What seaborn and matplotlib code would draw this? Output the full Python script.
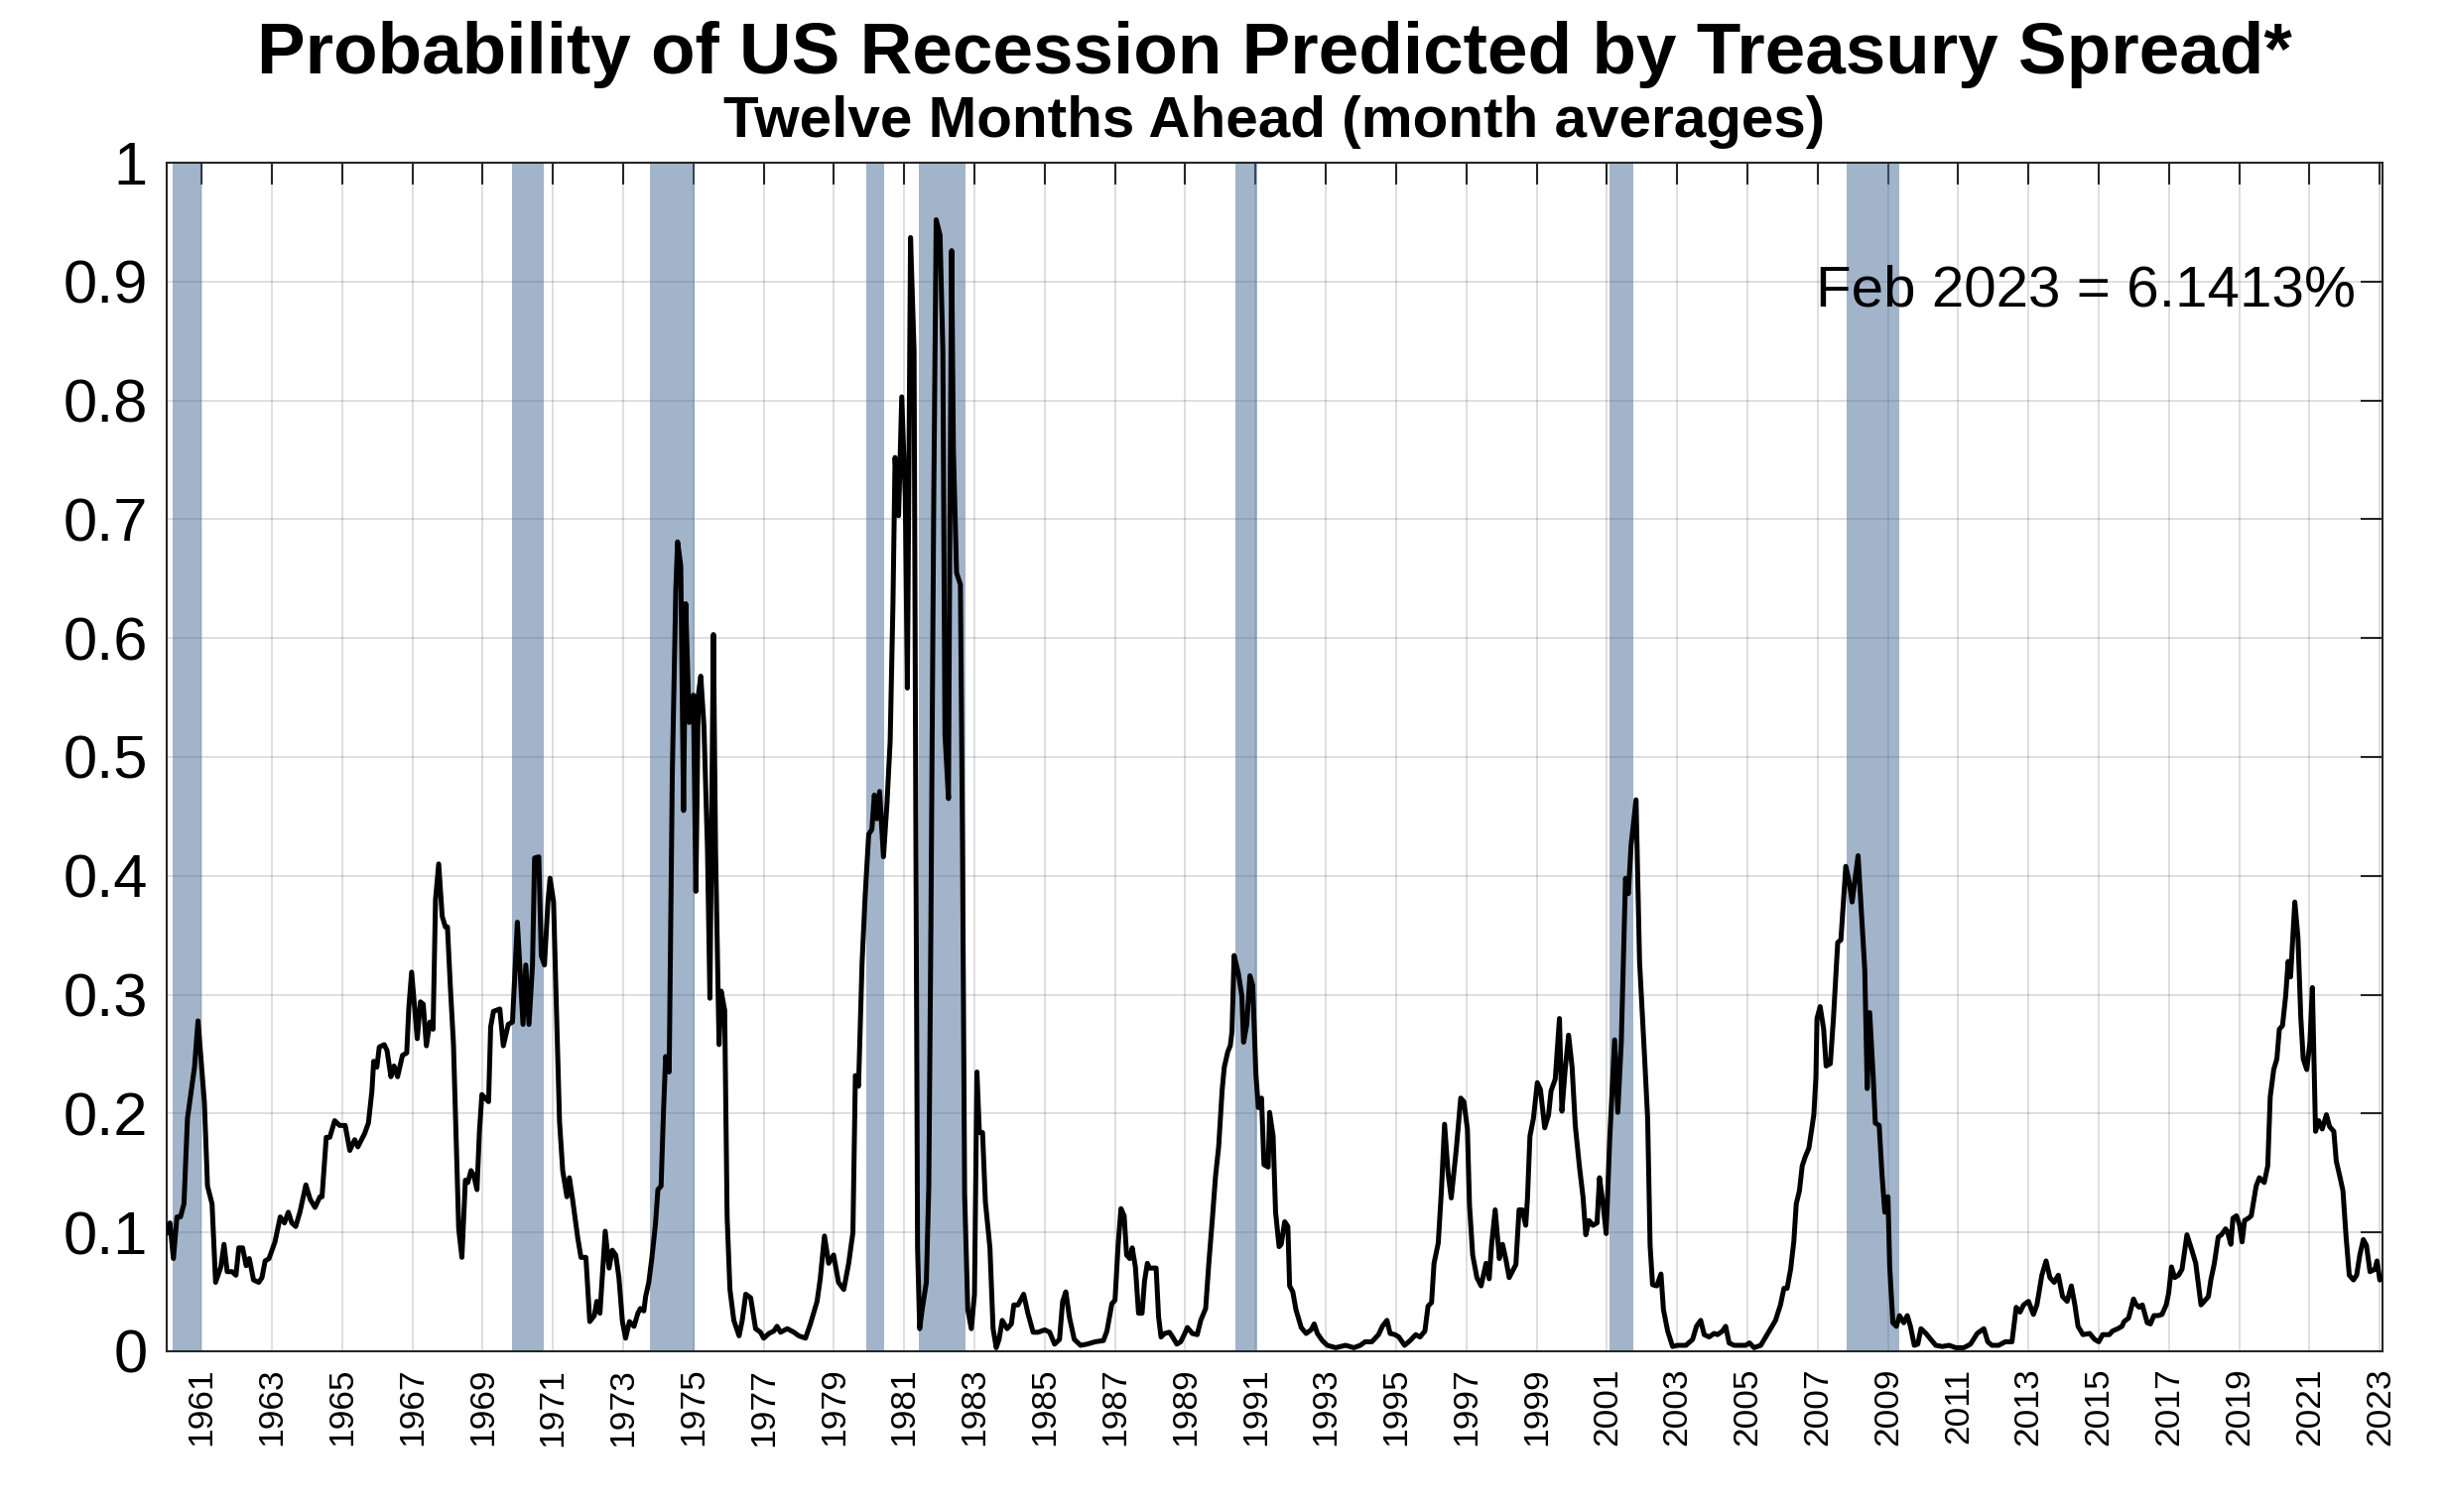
import numpy as np
import pandas as pd
import matplotlib
matplotlib.use('Agg')
import matplotlib.pyplot as plt
import seaborn as sns

# monthly-ish readings: decimal year, probability
t_1960s = [1960.00, 1960.10, 1960.20, 1960.30, 1960.40, 1960.50, 1960.60, 1960.80, 1960.90, 1961.08,
           1961.17, 1961.30, 1961.40, 1961.55, 1961.64, 1961.73, 1961.87, 1961.98, 1962.06, 1962.17,
           1962.27, 1962.36, 1962.48, 1962.63, 1962.72, 1962.81, 1962.92, 1963.09, 1963.24, 1963.36,
           1963.47, 1963.57, 1963.68, 1963.80, 1963.97, 1964.09, 1964.23, 1964.37, 1964.43, 1964.55,
           1964.65, 1964.79, 1964.93, 1965.09, 1965.22, 1965.36, 1965.45, 1965.64, 1965.75, 1965.85,
           1965.90, 1965.99, 1966.06, 1966.20, 1966.28, 1966.39, 1966.48, 1966.58, 1966.72, 1966.84,
           1966.90, 1966.98, 1967.14, 1967.23, 1967.31, 1967.40, 1967.50, 1967.59, 1967.66, 1967.75,
           1967.85, 1967.94, 1968.00, 1968.08, 1968.17, 1968.25, 1968.32, 1968.41, 1968.51, 1968.58,
           1968.67, 1968.75, 1968.84, 1968.91, 1968.98, 1969.17, 1969.23, 1969.31, 1969.49, 1969.59,
           1969.73, 1969.85, 1969.99]
p_1960s = [.099, .108, .078, .113, .113, .124, .196, .239, .278, .210,
           .139, .124, .058, .071, .090, .067, .067, .064, .087, .087,
           .072, .078, .060, .058, .062, .076, .078, .092, .113, .108,
           .117, .108, .105, .117, .140, .128, .121, .130, .130, .180,
           .180, .194, .190, .190, .169, .178, .172, .183, .192, .219,
           .244, .239, .256, .258, .253, .231, .240, .231, .249, .251,
           .289, .319, .263, .294, .292, .257, .277, .271, .380, .410,
           .366, .357, .357, .308, .259, .177, .103, .079, .144, .142,
           .152, .148, .136, .185, .216, .210, .273, .286, .288, .257,
           .275, .277, .361]

t_1970s = [1970.15, 1970.23, 1970.32, 1970.42, 1970.48, 1970.60, 1970.67, 1970.76, 1970.86, 1970.92,
           1971.02, 1971.09, 1971.19, 1971.28, 1971.40, 1971.47, 1971.56, 1971.71, 1971.80, 1971.94,
           1972.05, 1972.18, 1972.25, 1972.34, 1972.49, 1972.60, 1972.69, 1972.79, 1972.88, 1972.98,
           1973.07, 1973.18, 1973.31, 1973.42, 1973.49, 1973.59, 1973.64, 1973.73, 1973.82, 1973.92,
           1973.99, 1974.08, 1974.15, 1974.21, 1974.31, 1974.40, 1974.50, 1974.55, 1974.64, 1974.72,
           1974.78, 1974.88, 1974.94, 1975.00, 1975.07, 1975.14, 1975.21, 1975.30, 1975.40, 1975.47,
           1975.57, 1975.63, 1975.73, 1975.79, 1975.89, 1975.96, 1976.04, 1976.15, 1976.30, 1976.39,
           1976.49, 1976.63, 1976.77, 1976.91, 1977.00, 1977.15, 1977.29, 1977.38, 1977.48, 1977.67,
           1977.86, 1978.00, 1978.19, 1978.33, 1978.52, 1978.61, 1978.73, 1978.85, 1978.99, 1979.13,
           1979.28, 1979.42, 1979.54, 1979.61, 1979.70, 1979.80, 1979.89, 1979.99]
p_1970s = [.275, .325, .275, .325, .415, .416, .333, .325, .378, .398,
           .378, .300, .193, .152, .130, .146, .128, .095, .079, .079,
           .025, .030, .042, .032, .101, .070, .085, .081, .062, .025,
           .011, .025, .021, .032, .036, .034, .046, .058, .079, .107,
           .136, .139, .203, .248, .235, .487, .642, .681, .661, .455,
           .629, .529, .548, .552, .387, .552, .568, .526, .423, .297,
           .603, .423, .258, .303, .287, .113, .052, .026, .013, .026,
           .048, .045, .019, .016, .011, .015, .017, .021, .016, .019,
           .016, .013, .011, .023, .042, .061, .097, .074, .081, .058,
           .052, .074, .100, .232, .223, .326, .384, .435]

t_1980s = [1980.08, 1980.15, 1980.22, 1980.30, 1980.41, 1980.51, 1980.60, 1980.68, 1980.74, 1980.84,
           1980.93, 1981.03, 1981.09, 1981.18, 1981.28, 1981.33, 1981.38, 1981.44, 1981.51, 1981.63,
           1981.70, 1981.76, 1981.84, 1981.91, 1982.02, 1982.10, 1982.16, 1982.26, 1982.30, 1982.35,
           1982.40, 1982.49, 1982.60, 1982.66, 1982.72, 1982.81, 1982.91, 1983.00, 1983.07, 1983.14,
           1983.23, 1983.31, 1983.44, 1983.53, 1983.62, 1983.70, 1983.79, 1983.93, 1984.05, 1984.12,
           1984.24, 1984.40, 1984.52, 1984.67, 1984.81, 1985.00, 1985.14, 1985.28, 1985.42, 1985.51,
           1985.60, 1985.70, 1985.84, 1986.02, 1986.20, 1986.44, 1986.67, 1986.77, 1986.91, 1987.00,
           1987.09, 1987.17, 1987.26, 1987.33, 1987.42, 1987.49, 1987.58, 1987.67, 1987.77, 1987.84,
           1987.92, 1987.98, 1988.17, 1988.24, 1988.31, 1988.41, 1988.55, 1988.64, 1988.76, 1988.87,
           1988.97, 1989.06, 1989.20, 1989.34, 1989.44, 1989.58, 1989.67, 1989.77, 1989.86, 1989.95]
p_1980s = [.439, .468, .448, .471, .416, .461, .513, .629, .752, .703,
           .803, .719, .558, .937, .842, .450, .087, .019, .035, .058,
           .139, .358, .713, .952, .939, .842, .519, .465, .694, .926,
           .758, .655, .645, .423, .132, .035, .019, .048, .235, .184,
           .184, .126, .087, .019, .003, .010, .026, .019, .023, .039,
           .039, .048, .032, .016, .016, .018, .016, .006, .010, .042,
           .050, .029, .010, .005, .006, .008, .009, .017, .040, .043,
           .090, .120, .114, .081, .078, .087, .071, .032, .032, .059,
           .074, .070, .070, .029, .012, .015, .016, .012, .006, .008,
           .014, .020, .015, .014, .026, .036, .074, .111, .147, .172]

t_1990s = [1990.05, 1990.11, 1990.21, 1990.28, 1990.33, 1990.39, 1990.51, 1990.61, 1990.66, 1990.75,
           1990.84, 1990.92, 1991.01, 1991.08, 1991.17, 1991.24, 1991.36, 1991.40, 1991.50, 1991.57,
           1991.67, 1991.73, 1991.83, 1991.92, 1991.97, 1992.06, 1992.15, 1992.30, 1992.44, 1992.58,
           1992.67, 1992.76, 1992.90, 1993.04, 1993.28, 1993.56, 1993.80, 1993.98, 1994.12, 1994.31,
           1994.50, 1994.61, 1994.74, 1994.83, 1994.97, 1995.08, 1995.24, 1995.40, 1995.56, 1995.68,
           1995.82, 1995.91, 1996.01, 1996.08, 1996.20, 1996.29, 1996.38, 1996.48, 1996.57, 1996.71,
           1996.84, 1996.93, 1997.03, 1997.09, 1997.18, 1997.30, 1997.42, 1997.56, 1997.65, 1997.72,
           1997.82, 1997.94, 1998.03, 1998.12, 1998.22, 1998.41, 1998.50, 1998.59, 1998.69, 1998.74,
           1998.81, 1998.91, 1999.02, 1999.11, 1999.23, 1999.34, 1999.41, 1999.53, 1999.65, 1999.72,
           1999.81, 1999.91]
p_1990s = [.220, .239, .252, .257, .269, .333, .318, .299, .260, .275,
           .316, .308, .233, .205, .213, .157, .155, .201, .181, .117,
           .088, .090, .109, .105, .055, .050, .035, .020, .015, .018,
           .023, .015, .009, .005, .003, .005, .003, .005, .008, .008,
           .014, .021, .026, .015, .014, .012, .005, .009, .014, .012,
           .017, .038, .041, .074, .091, .135, .191, .150, .129, .169,
           .213, .210, .187, .123, .081, .062, .055, .074, .061, .090,
           .119, .078, .090, .078, .062, .073, .119, .119, .106, .129,
           .181, .196, .226, .220, .188, .199, .219, .229, .280, .202,
           .236, .266]

t_2000s = [2000.01, 2000.10, 2000.22, 2000.32, 2000.40, 2000.49, 2000.60, 2000.72, 2000.79, 2000.89,
           2000.98, 2001.08, 2001.22, 2001.31, 2001.41, 2001.53, 2001.61, 2001.69, 2001.83, 2001.93,
           2002.07, 2002.16, 2002.23, 2002.30, 2002.42, 2002.54, 2002.61, 2002.73, 2002.87, 2003.01,
           2003.25, 2003.44, 2003.55, 2003.67, 2003.77, 2003.91, 2004.05, 2004.15, 2004.29, 2004.38,
           2004.48, 2004.62, 2004.81, 2004.95, 2005.06, 2005.19, 2005.38, 2005.52, 2005.66, 2005.80,
           2005.94, 2006.04, 2006.13, 2006.23, 2006.32, 2006.39, 2006.48, 2006.56, 2006.65, 2006.75,
           2006.89, 2006.95, 2006.98, 2007.07, 2007.17, 2007.24, 2007.36, 2007.45, 2007.57, 2007.66,
           2007.80, 2007.89, 2007.98, 2008.15, 2008.25, 2008.34, 2008.41, 2008.48, 2008.58, 2008.64,
           2008.75, 2008.83, 2008.91, 2009.00, 2009.05, 2009.14, 2009.24, 2009.33, 2009.45, 2009.55,
           2009.64, 2009.75, 2009.85, 2009.94]
p_2000s = [.239, .190, .155, .130, .098, .110, .106, .108, .146, .124,
           .099, .178, .262, .201, .260, .398, .385, .426, .464, .328,
           .249, .196, .089, .056, .055, .065, .035, .017, .004, .005,
           .005, .010, .021, .026, .014, .012, .015, .014, .017, .021,
           .007, .005, .005, .005, .007, .003, .005, .012, .019, .026,
           .039, .053, .053, .069, .092, .124, .135, .156, .164, .171,
           .199, .231, .280, .290, .271, .240, .242, .281, .344, .346,
           .408, .396, .378, .417, .367, .321, .221, .285, .231, .192,
           .190, .149, .117, .130, .071, .024, .021, .030, .024, .030,
           .021, .005, .006, .019]

t_2010s = [2010.08, 2010.22, 2010.36, 2010.55, 2010.74, 2010.93, 2011.16, 2011.35, 2011.54, 2011.73,
           2011.84, 2011.96, 2012.15, 2012.34, 2012.53, 2012.65, 2012.76, 2012.86, 2013.00, 2013.14,
           2013.24, 2013.38, 2013.50, 2013.61, 2013.73, 2013.85, 2013.97, 2014.10, 2014.22, 2014.32,
           2014.41, 2014.55, 2014.74, 2014.88, 2015.00, 2015.11, 2015.30, 2015.39, 2015.54, 2015.66,
           2015.72, 2015.85, 2015.99, 2016.05, 2016.15, 2016.24, 2016.38, 2016.47, 2016.57, 2016.69,
           2016.80, 2016.92, 2016.99, 2017.07, 2017.16, 2017.27, 2017.37, 2017.51, 2017.65, 2017.76,
           2017.91, 2018.00, 2018.12, 2018.19, 2018.29, 2018.40, 2018.49, 2018.61, 2018.66, 2018.76,
           2018.82, 2018.92, 2019.01, 2019.08, 2019.15, 2019.26, 2019.34, 2019.48, 2019.57, 2019.71,
           2019.81, 2019.88, 2019.98]
p_2010s = [.015, .010, .005, .004, .005, .003, .003, .006, .015, .019,
           .008, .005, .005, .008, .008, .037, .033, .039, .042, .031,
           .039, .064, .076, .062, .058, .064, .046, .042, .055, .039,
           .021, .014, .015, .010, .008, .014, .014, .017, .019, .021,
           .025, .028, .044, .040, .037, .039, .024, .023, .030, .030,
           .031, .039, .049, .071, .062, .064, .069, .098, .085, .074,
           .039, .042, .046, .060, .074, .096, .098, .103, .101, .090,
           .112, .114, .106, .092, .110, .112, .114, .139, .146, .142,
           .156, .214, .237]

t_2020s = [2020.07, 2020.14, 2020.23, 2020.32, 2020.39, 2020.46, 2020.58, 2020.67, 2020.75, 2020.82,
           2020.92, 2021.01, 2021.08, 2021.17, 2021.26, 2021.36, 2021.48, 2021.57, 2021.69, 2021.76,
           2021.87, 2021.95, 2022.04, 2022.13, 2022.25, 2022.34, 2022.43, 2022.53, 2022.62, 2022.72,
           2022.86, 2022.92, 2023.00, 2023.08]
p_2020s = [.246, .271, .274, .299, .328, .315, .378, .348, .281, .246,
           .237, .260, .306, .185, .194, .187, .199, .189, .185, .160,
           .146, .135, .096, .064, .060, .064, .081, .094, .089, .067,
           .069, .076, .060, .0614]

# NBER recessions as shaded on the chart
rec_start = [1960.17, 1969.83, 1973.75, 1979.92, 1981.42, 1990.42, 2001.08, 2007.83]
rec_end = [1961.00, 1970.75, 1975.04, 1980.42, 1982.75, 1991.04, 2001.75, 2009.33]

x_ticks = list(range(1961, 2024, 2))
y_ticks = [0, 0.1, 0.2, 0.3, 0.4, 0.5, 0.6, 0.7, 0.8, 0.9, 1]
y_labels = ['0', '0.1', '0.2', '0.3', '0.4', '0.5', '0.6', '0.7', '0.8', '0.9', '1']

title = 'Probability of US Recession Predicted by Treasury Spread*'
subtitle = 'Twelve Months Ahead (month averages)'
note = 'Feb 2023 = 6.1413%'


def make_chart():
    df = pd.DataFrame({
        'date': t_1960s + t_1970s + t_1980s + t_1990s + t_2000s + t_2010s + t_2020s,
        'prob': p_1960s + p_1970s + p_1980s + p_1990s + p_2000s + p_2010s + p_2020s,
    })

    sns.set_style('white')
    plt.rcParams['font.family'] = ['Liberation Sans', 'DejaVu Sans']
    plt.rcParams['text.color'] = 'black'

    fig = plt.figure(figsize=(16.44, 10.16), dpi=150)
    ax = fig.add_axes([0.068, 0.1063, 0.9057, 0.7861])

    for s, e in zip(rec_start, rec_end):
        ax.axvspan(s, e, color=(0.278, 0.42, 0.592), alpha=0.5, lw=0, zorder=1)

    sns.lineplot(data=df, x='date', y='prob', color='black', lw=2.4,
                 estimator=None, errorbar=None, ax=ax, zorder=3)

    ax.set_axisbelow(True)
    ax.grid(True, color='black', alpha=0.15, lw=0.8)

    ax.set_xlim(1960.0, 2023.08)
    ax.set_ylim(0, 1)
    ax.set_xticks(x_ticks)
    ax.set_xticklabels([str(y) for y in x_ticks], rotation=90, fontsize=17)
    ax.set_yticks(y_ticks)
    ax.set_yticklabels(y_labels, fontsize=29.5)
    ax.tick_params(direction='in', length=10.5, width=1, colors='#262626',
                   top=True, right=True, labelcolor='black')
    ax.tick_params(axis='x', pad=8)
    ax.tick_params(axis='y', pad=9)
    ax.set_xlabel('')
    ax.set_ylabel('')
    for sp in ax.spines.values():
        sp.set_visible(True)
        sp.set_color('#262626')
        sp.set_linewidth(1.0)

    ax.text(0.988, 0.879, note, transform=ax.transAxes, ha='right', va='baseline',
            fontsize=28, color='black', zorder=4)

    cx = 0.068 + 0.9057 / 2
    fig.text(cx, 0.964, title, ha='center', va='center', fontsize=35,
             fontweight='bold', color='black')
    fig.text(cx, 0.919, subtitle, ha='center', va='center', fontsize=28,
             fontweight='bold', color='black')

    fig.savefig('out.png', dpi=150)
    plt.close(fig)


if __name__ == '__main__':
    make_chart()
